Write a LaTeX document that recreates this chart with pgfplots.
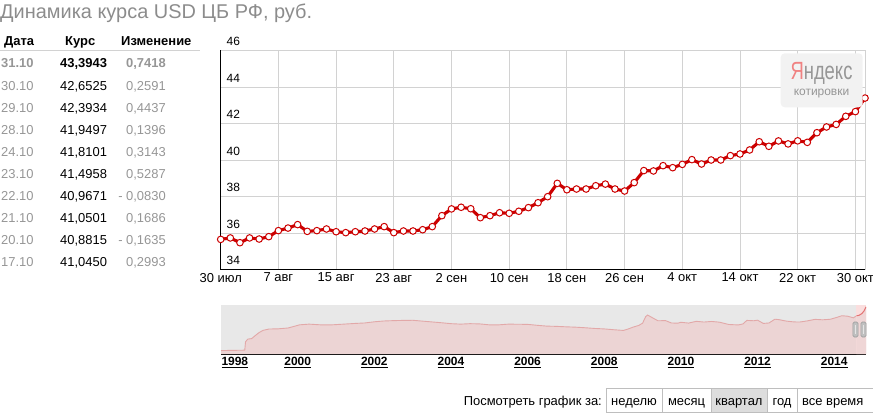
\documentclass[border=0pt]{standalone}
\usepackage{fontspec}
\setmainfont{Liberation Sans}
\usepackage{pgfplots}
\usepackage{pgfplotstable}
\pgfplotsset{compat=1.18}
\definecolor{ttlgray}{RGB}{140,140,140}
\definecolor{txtgray}{RGB}{150,150,150}
\definecolor{gridgray}{RGB}{210,210,210}
\definecolor{ured}{RGB}{204,0,0}
\definecolor{navbg}{RGB}{232,232,232}
\definecolor{navfill}{RGB}{236,212,212}
\definecolor{navline}{RGB}{226,168,168}
\definecolor{selfill}{RGB}{250,222,222}
\definecolor{btnborder}{RGB}{190,190,190}
\definecolor{btnsel}{RGB}{221,221,221}
\definecolor{yapink}{RGB}{240,130,130}
\definecolor{yagray}{RGB}{150,150,150}
\definecolor{yabg}{RGB}{242,242,242}

\pgfplotstableread{
x y
0 35.65
1 35.73
2 35.47
3 35.73
4 35.67
5 35.80
6 36.13
7 36.27
8 36.46
9 36.09
10 36.13
11 36.22
12 36.07
13 36.02
14 36.07
15 36.11
16 36.22
17 36.35
18 36.02
19 36.11
20 36.11
21 36.18
22 36.35
23 36.95
24 37.32
25 37.41
26 37.33
27 36.84
28 36.95
29 37.11
30 37.08
31 37.19
32 37.39
33 37.66
34 37.99
35 38.72
36 38.37
37 38.41
38 38.41
39 38.59
40 38.68
41 38.41
42 38.30
43 38.76
44 39.42
45 39.40
46 39.69
47 39.58
48 39.76
49 40.02
50 39.78
51 40.00
52 40.00
53 40.24
54 40.33
55 40.55
56 41.00
57 40.75
58 41.045
59 40.8815
60 41.0501
61 40.9671
62 41.4958
63 41.8101
64 41.9497
65 42.3934
66 42.6525
67 43.3943
}\quarter

\pgfplotstableread{
x y
1998.00 5.96
1998.55 6.24
1998.62 6.30
1998.64 13.5
1998.70 15.8
1998.80 16.2
1998.92 19.5
1999.00 21.5
1999.10 23.3
1999.25 24.4
1999.50 24.6
1999.75 25.3
1999.92 26.8
2000.05 28.0
2000.30 28.6
2000.60 28.0
2000.90 28.0
2001.20 28.6
2001.50 29.2
2001.75 29.6
2002.00 30.6
2002.25 31.3
2002.50 31.6
2002.75 31.8
2003.00 31.9
2003.25 31.2
2003.50 30.5
2003.75 29.8
2004.00 29.0
2004.25 28.6
2004.50 29.0
2004.75 28.8
2005.00 28.0
2005.25 28.0
2005.50 28.6
2005.75 28.5
2006.00 28.4
2006.25 27.6
2006.50 26.9
2006.75 26.7
2007.00 26.3
2007.25 26.0
2007.50 25.5
2007.75 24.9
2008.00 24.5
2008.25 23.8
2008.50 23.2
2008.62 24.4
2008.75 26.0
2008.90 27.5
2009.00 29.4
2009.08 35.0
2009.13 36.4
2009.25 34.2
2009.40 31.5
2009.60 31.6
2009.75 29.6
2009.92 29.4
2010.00 30.2
2010.20 29.5
2010.40 31.0
2010.60 30.4
2010.80 30.9
2011.00 30.3
2011.25 28.3
2011.50 27.9
2011.62 28.8
2011.72 31.8
2011.90 31.5
2012.00 32.0
2012.15 29.2
2012.30 29.6
2012.45 32.8
2012.55 32.5
2012.75 31.2
2012.95 30.5
2013.10 30.4
2013.30 31.4
2013.50 32.7
2013.70 32.3
2013.90 32.8
2014.05 34.2
2014.20 35.8
2014.35 35.4
2014.50 34.0
2014.58 35.7
2014.65 36.2
2014.72 37.6
2014.78 40.0
2014.83 43.4
}\history

\pgfplotstableread{
x y
2014.58 35.7
2014.65 36.2
2014.72 37.6
2014.78 40.0
2014.83 43.4
}\selected

\newcommand{\fs}[1]{\fontsize{#1}{#1}\selectfont}

\begin{document}
\begin{tikzpicture}[x=1bp,y=1bp]
\useasboundingbox (0,0) rectangle (873,414);

% ---------- title ----------
\node[anchor=base west, inner sep=0, text=ttlgray, font=\fs{20}] at (0,{414-18.3}) {Динамика курса USD ЦБ РФ, руб.};

% ---------- table ----------
\node[anchor=base west, inner sep=0, font=\fs{13}\bfseries] at (4,{414-45.6}) {Дата};
\node[anchor=base west, inner sep=0, font=\fs{13}\bfseries] at (65,{414-45.6}) {Курс};
\node[anchor=base west, inner sep=0, font=\fs{13}\bfseries] at (121,{414-45.6}) {Изменение};
\draw[gridgray, line width=1bp] (0,{414-50.7}) -- (200,{414-50.7});

\newcommand{\trow}[5]{%
  \node[anchor=base west, inner sep=0, text=txtgray, font=\fs{13}#5] at (1,{414-#1}) {#2};
  \node[anchor=base west, inner sep=0, text=black, font=\fs{13}#5] at (60,{414-#1}) {#3};
  \node[anchor=base east, inner sep=0, text=txtgray, font=\fs{13}#5] at (166,{414-#1}) {#4};
}
\trow{67.95}{31.10}{43,3943}{0,7418}{\bfseries}
\trow{90.05}{30.10}{42,6525}{0,2591}{}
\trow{112.15}{29.10}{42,3934}{0,4437}{}
\trow{134.25}{28.10}{41,9497}{0,1396}{}
\trow{156.35}{24.10}{41,8101}{0,3143}{}
\trow{178.45}{23.10}{41,4958}{0,5287}{}
\trow{200.55}{22.10}{40,9671}{- 0,0830}{}
\trow{222.65}{21.10}{41,0501}{0,1686}{}
\trow{244.75}{20.10}{40,8815}{- 0,1635}{}
\trow{266.85}{17.10}{41,0450}{0,2993}{}

% ---------- main chart ----------
\begin{axis}[
  at={(220.7bp,144.5bp)}, anchor=south west,
  scale only axis, width=644.3bp, height=219bp,
  xmin=0, xmax=67, ymin=34, ymax=46,
  axis x line*=bottom, axis y line*=left,
  axis line style={black, line width=1bp},
  xtick={0,6,...,66},
  xticklabels={30 июл,7 авг,15 авг,23 авг,2 сен,10 сен,18 сен,26 сен,4 окт,14 окт,22 окт,30 окт},
  extra x ticks={67}, extra x tick labels={},
  extra x tick style={grid=major},
  ytick={34,36,...,46},
  grid=major, major grid style={gridgray, line width=0.9bp},
  major tick length=0pt,
  xticklabel style={font=\fs{13}, text=black},
  yticklabel style={font=\fs{12}, text=black, anchor=south west, xshift=2.5bp, yshift=1bp},
  /pgf/number format/assume math mode=true,
  clip=false,
]
\addplot[ured, line width=3.1bp, mark=*, mark size=3.3bp,
  mark options={fill=white, draw=ured, line width=1bp}] table[x=x,y=y] {\quarter};
\end{axis}

% Yandex badge
\fill[yabg, rounded corners=4bp] (780.7,{414-53.3}) rectangle (862.7,{414-107.3});
\node[anchor=center, inner sep=0, font=\fs{25}] at (821.5,{414-73.5})
  {\scalebox{0.74}[1]{\textcolor{yapink}{Я}\textcolor{yagray}{ндекс}}};
\node[anchor=center, inner sep=0, font=\fs{12}, text=yagray] at (821.5,{414-93.3}) {котировки};

% ---------- navigator ----------
\begin{axis}[
  at={(221bp,60bp)}, anchor=south west,
  scale only axis, width=645bp, height=49bp,
  xmin=1998, xmax=2014.83, ymin=3, ymax=45,
  axis x line*=bottom, axis y line=none,
  axis line style={black, line width=1bp},
  axis background/.style={fill=navbg},
  xtick={2000,2002,...,2014},
  xticklabels={\underline{2000},\underline{2002},\underline{2004},\underline{2006},\underline{2008},\underline{2010},\underline{2012},\underline{2014}},
  extra x ticks={1998},
  extra x tick labels={\underline{1998}},
  extra x tick style={xticklabel style={anchor=north west, xshift=-3bp}},
  xticklabel style={font=\fs{12}\bfseries, text=black},
  major tick length=0pt,
  ytick=\empty,
]
\addplot[draw=none, fill=navfill] table[x=x,y=y] {\history} \closedcycle;
\addplot[navline, line width=0.9bp] table[x=x,y=y] {\history};
\fill[selfill] (axis cs:2014.58,3) rectangle (axis cs:2014.83,45);
\addplot[draw=none, fill=navfill!80!selfill] table[x=x,y=y] {\selected} \closedcycle;
\addplot[ured!55, line width=1bp] table[x=x,y=y] {\selected};
\end{axis}
% handles
\foreach \hx in {855.5,863.5} {
  \draw[gray!75, fill=gray!50, rounded corners=1.5bp, line width=0.6bp] ({\hx-2.6},{414-337}) rectangle ({\hx+2.6},{414-322});
  \draw[gray!20, line width=0.9bp] (\hx,{414-334}) -- (\hx,{414-325});
}

% ---------- period buttons ----------
\node[anchor=base east, inner sep=0, font=\fs{13}] at (602,{414-405.6}) {Посмотреть график за:};
\fill[btnsel] (711,{414-388}) rectangle (767,{414-412});
\draw[btnborder, line width=1bp] (606,{414-388}) rectangle (880,{414-412});
\foreach \bx in {662,711,767,797} {
  \draw[btnborder, line width=1bp] (\bx,{414-388}) -- (\bx,{414-412});
}
\node[anchor=base, inner sep=0, font=\fs{13}] at (634,{414-405.6}) {неделю};
\node[anchor=base, inner sep=0, font=\fs{13}] at (686.5,{414-405.6}) {месяц};
\node[anchor=base, inner sep=0, font=\fs{13}] at (739,{414-405.6}) {квартал};
\node[anchor=base, inner sep=0, font=\fs{13}] at (782,{414-405.6}) {год};
\node[anchor=base west, inner sep=0, font=\fs{13}] at (802,{414-405.6}) {все время};
\end{tikzpicture}
\end{document}
